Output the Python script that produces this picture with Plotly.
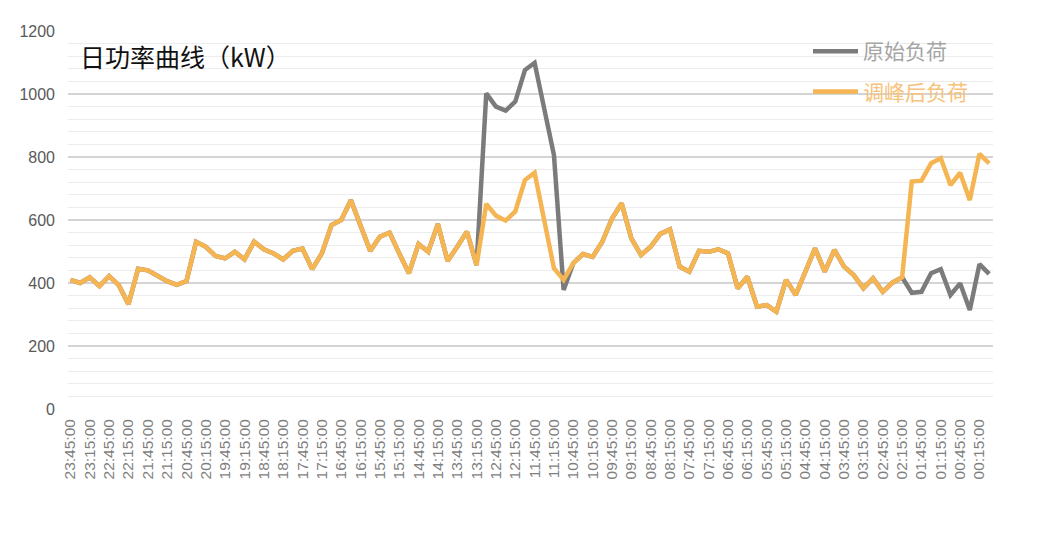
import plotly.graph_objects as go

# time slots, 15 min steps, newest first
times = [
    "23:45:00", "23:30:00", "23:15:00", "23:00:00", "22:45:00", "22:30:00", "22:15:00", "22:00:00",
    "21:45:00", "21:30:00", "21:15:00", "21:00:00", "20:45:00", "20:30:00", "20:15:00", "20:00:00",
    "19:45:00", "19:30:00", "19:15:00", "19:00:00", "18:45:00", "18:30:00", "18:15:00", "18:00:00",
    "17:45:00", "17:30:00", "17:15:00", "17:00:00", "16:45:00", "16:30:00", "16:15:00", "16:00:00",
    "15:45:00", "15:30:00", "15:15:00", "15:00:00", "14:45:00", "14:30:00", "14:15:00", "14:00:00",
    "13:45:00", "13:30:00", "13:15:00", "13:00:00", "12:45:00", "12:30:00", "12:15:00", "12:00:00",
    "11:45:00", "11:30:00", "11:15:00", "11:00:00", "10:45:00", "10:30:00", "10:15:00", "10:00:00",
    "09:45:00", "09:30:00", "09:15:00", "09:00:00", "08:45:00", "08:30:00", "08:15:00", "08:00:00",
    "07:45:00", "07:30:00", "07:15:00", "07:00:00", "06:45:00", "06:30:00", "06:15:00", "06:00:00",
    "05:45:00", "05:30:00", "05:15:00", "05:00:00", "04:45:00", "04:30:00", "04:15:00", "04:00:00",
    "03:45:00", "03:30:00", "03:15:00", "03:00:00", "02:45:00", "02:30:00", "02:15:00", "02:00:00",
    "01:45:00", "01:30:00", "01:15:00", "01:00:00", "00:45:00", "00:30:00", "00:15:00", "00:00:00",
]

original_load = [
    410, 400, 418, 390, 422, 393, 333, 445, 440, 422, 406, 394, 406, 531, 515, 486,
    478, 499, 475, 531, 507, 494, 475, 502, 509, 444, 494, 584, 600, 663, 579, 502,
    547, 560, 494, 431, 524, 499, 587, 470, 515, 563, 457, 1002, 960, 947, 976, 1076,
    1099, 955, 806, 378, 463, 492, 483, 531, 605, 653, 542, 489, 515, 556, 570, 452,
    436, 502, 499, 507, 494, 383, 420, 325, 330, 309, 410, 362, 436, 510, 436, 505,
    452, 425, 383, 415, 372, 401, 418, 369, 372, 431, 444, 362, 399, 314, 460, 429,
]

shaved_load = [
    410, 400, 418, 390, 422, 393, 333, 445, 440, 422, 406, 394, 406, 531, 515, 486,
    478, 499, 475, 531, 507, 494, 475, 502, 509, 444, 494, 584, 600, 663, 579, 502,
    547, 560, 494, 431, 524, 499, 587, 470, 515, 563, 457, 651, 614, 598, 627, 727,
    750, 603, 447, 410, 463, 492, 483, 531, 605, 653, 542, 489, 515, 556, 570, 452,
    436, 502, 499, 507, 494, 383, 420, 325, 330, 309, 410, 362, 436, 510, 436, 505,
    452, 425, 383, 415, 372, 401, 418, 722, 725, 780, 796, 711, 750, 663, 810, 780,
]

# only every other slot gets a label
tick_labels = times[::2]

GREY = '#7b7b7b'
ORANGE = '#f5b552'

fig = go.Figure()
fig.add_trace(go.Scatter(
    x=times, y=original_load,
    mode='lines', name='<span style="color:#a5a5a5">原始负荷</span>',
    legendgroup='a',
    line=dict(width=4.5, color=GREY)
))
fig.add_trace(go.Scatter(
    x=times, y=shaved_load,
    mode='lines', name='<span style="color:#f7c27a">调峰后负荷</span>',
    legendgroup='b',
    line=dict(width=4.5, color=ORANGE)
))

fig.add_annotation(
    text='日功率曲线（kW）',
    xref='paper', yref='paper', x=0.011, y=0.935,
    xanchor='left', yanchor='middle', showarrow=False,
    font=dict(family='Noto Sans CJK SC', size=25, color='#111111')
)

fig.update_xaxes(
    type='category',
    tickmode='array', tickvals=tick_labels, ticktext=tick_labels,
    tickangle=-90,
    range=[-0.25, 95.4],
    showgrid=False, showline=False, zeroline=False,
    ticklabelstandoff=6,
    tickfont=dict(family='Liberation Sans, Arial', size=15.5, color='#7f7f7f')
)
fig.update_yaxes(
    range=[0, 1200], dtick=200,
    showgrid=True, gridcolor='#d4d4d4', gridwidth=1.5,
    minor=dict(dtick=40, showgrid=True, gridcolor='#ececec', gridwidth=1),
    zeroline=False, showline=False,
    ticklabelstandoff=12,
    tickfont=dict(family='Liberation Sans, Arial', size=16, color='#595959')
)
fig.update_layout(
    width=1042, height=534,
    margin=dict(l=68, r=49, t=31, b=125),
    plot_bgcolor='white',
    paper_bgcolor='white',
    showlegend=True,
    legend=dict(
        x=0.8, y=1.0, xanchor='left', yanchor='top',
        bgcolor='rgba(0,0,0,0)', tracegroupgap=10,
        itemwidth=45,
        font=dict(family='Noto Sans CJK SC', size=21)
    )
)

# page body margin would push the figure 8px off
fig.write_html("out.html", config={'displayModeBar': False},
               post_script="document.body.style.margin='0';")
